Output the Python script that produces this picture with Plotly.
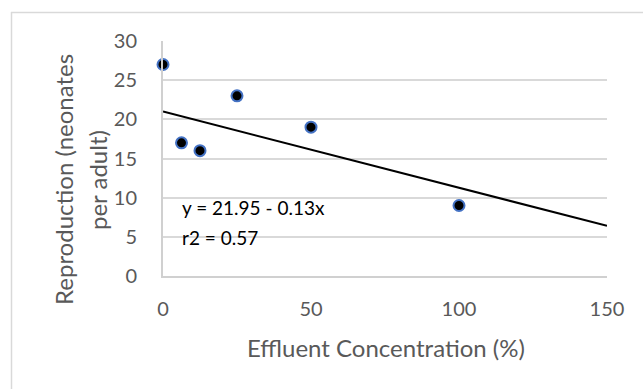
import plotly.graph_objects as go

conc = [0, 6.25, 12.5, 25, 50, 100]
repro = [27, 17, 16, 23, 19, 9]
trend_x = [0, 150]
trend_y = [21.0, 6.4]
equation = "y = 21.95 - 0.13x"
r2_text = "r2 = 0.57"
x_title = "Effluent Concentration (%)"
y_title_lines = ["Reproduction (neonates", "per adult)"]

FONT = "Lato"
GRAY = "#595959"

fig = go.Figure()
fig.add_trace(go.Scatter(x=trend_x, y=trend_y, mode="lines",
                         line=dict(color="black", width=2), hoverinfo="skip",
                         showlegend=False, cliponaxis=False))
fig.add_trace(go.Scatter(x=conc, y=repro, mode="markers",
                         marker=dict(color="black", size=11,
                                     line=dict(color="#4472C4", width=2)),
                         showlegend=False, cliponaxis=False))

W, H = 643, 389
L, R, T, B = 163, 36, 41, 113
PW, PH = W - L - R, H - T - B


def px(x):
    return (x - L) / PW


def py(y):
    return (H - B - y) / PH


annots = [
    dict(text=equation, xref="paper", yref="paper",
         x=px(180), y=py(207), xanchor="left", yanchor="middle",
         showarrow=False, font=dict(size=19, color="black", family=FONT)),
    dict(text=r2_text, xref="paper", yref="paper",
         x=px(180), y=py(237), xanchor="left", yanchor="middle",
         showarrow=False, font=dict(size=19, color="black", family=FONT)),
    dict(text=x_title, xref="paper", yref="paper",
         x=px(386), y=py(347), xanchor="center", yanchor="middle",
         showarrow=False, font=dict(size=24, color=GRAY, family=FONT)),
]
for xc, line in zip([63, 97], y_title_lines):
    annots.append(dict(text=line, xref="paper", yref="paper", textangle=-90,
                       x=px(xc), y=py(180), xanchor="center", yanchor="middle",
                       showarrow=False,
                       font=dict(size=24, color=GRAY, family=FONT)))

fig.update_layout(
    width=W, height=H,
    margin=dict(l=L, r=R, t=T, b=B),
    paper_bgcolor="white", plot_bgcolor="white",
    font=dict(family=FONT, color=GRAY, size=20),
    xaxis=dict(range=[0, 150], tickvals=[0, 50, 100, 150], showgrid=False,
               showline=True, linecolor="#D0D0D0", linewidth=2,
               zeroline=False, ticks="", ticklabelstandoff=14,
               tickfont=dict(size=20, color=GRAY)),
    yaxis=dict(range=[0, 30], tickvals=[0, 5, 10, 15, 20, 25, 30],
               showgrid=True, gridcolor="#D9D9D9", gridwidth=1.5,
               showline=True, linecolor="#D0D0D0", linewidth=2,
               zeroline=False, ticks="", ticklabelstandoff=20,
               tickfont=dict(size=20, color=GRAY)),
    shapes=[
        dict(type="line", xref="paper", yref="paper",
             x0=px(11), x1=px(W), y0=py(12.5), y1=py(12.5),
             line=dict(color="#D9D9D9", width=1.5)),
        dict(type="line", xref="paper", yref="paper",
             x0=px(11.5), x1=px(11.5), y0=py(12), y1=py(H),
             line=dict(color="#D9D9D9", width=1.5)),
    ],
    annotations=annots,
)

fig.write_html("out.html")
